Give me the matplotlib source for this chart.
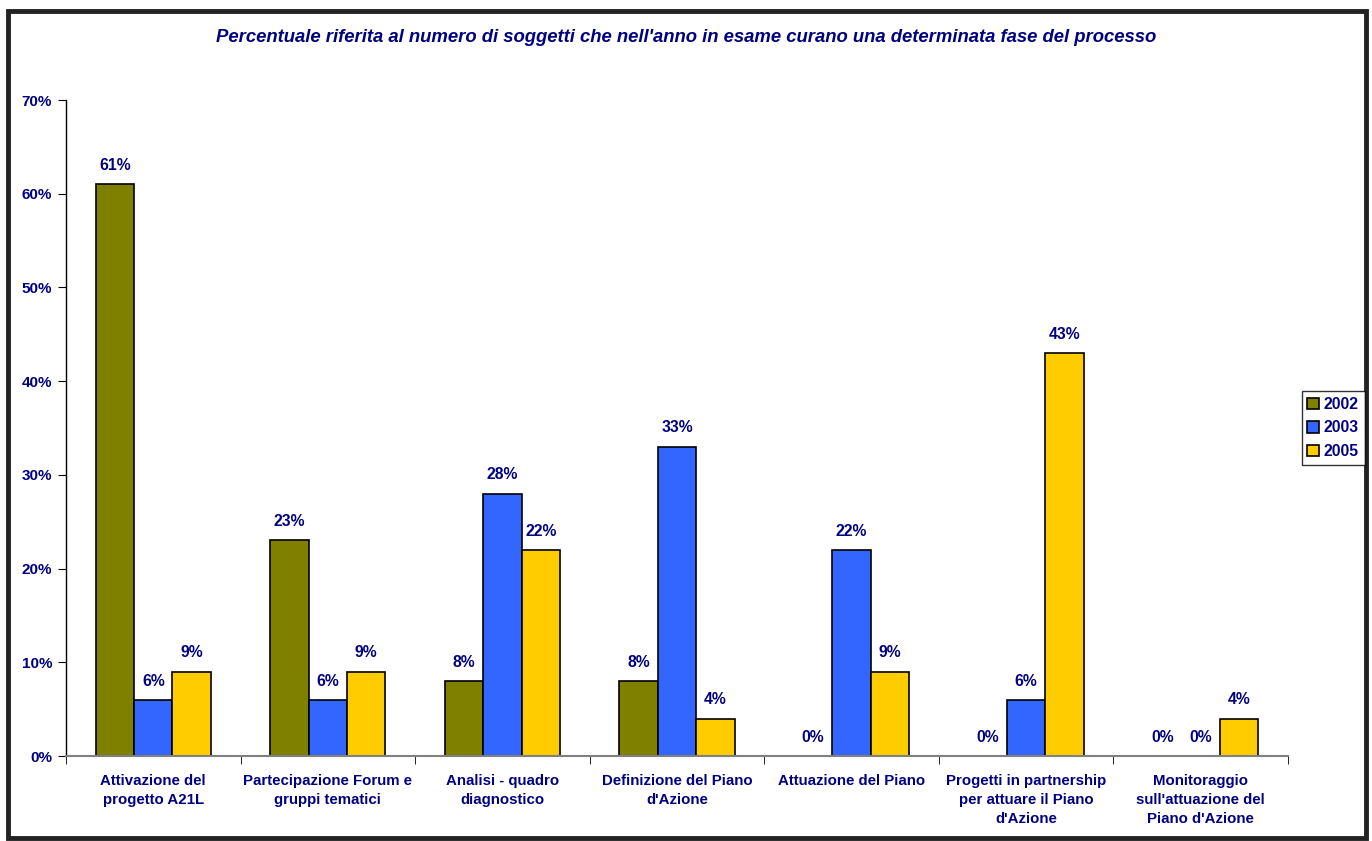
import numpy as np
import matplotlib.pyplot as plt
from matplotlib.patches import Rectangle

categories = ['Attivazione del\nprogetto A21L', 'Partecipazione Forum e\ngruppi tematici',
              'Analisi - quadro\ndiagnostico', "Definizione del Piano\nd'Azione",
              'Attuazione del Piano', 'Progetti in partnership\nper attuare il Piano\nd\'Azione',
              "Monitoraggio\nsull'attuazione del\nPiano d'Azione"]
years = ['2002', '2003', '2005']
v2002 = [61, 23, 8, 8, 0, 0, 0]
v2003 = [6, 6, 28, 33, 22, 6, 0]
v2005 = [9, 9, 22, 4, 9, 43, 4]
colors = ['#808000', '#3366FF', '#FFCC00']
navy = '#000080'

plt.rcParams['font.family'] = ['Liberation Sans', 'DejaVu Sans']

fig = plt.figure(figsize=(13.72, 8.41), dpi=100)
ax = fig.add_axes([66/1372, 1-756/841, (1288-66)/1372, (756-100)/841])

x = np.arange(len(categories))
w = 0.22
for i, (vals, c) in enumerate(zip([v2002, v2003, v2005], colors)):
    pos = x + (i - 1) * w
    ax.bar(pos, vals, w, color=c, edgecolor='black', linewidth=1.2, label=years[i])
    for p, v in zip(pos, vals):
        ax.text(p, v + 1.2, f'{v}%', ha='center', va='bottom', color=navy,
                fontsize=11.3, fontweight='bold')

ax.set_xlim(-0.5, len(categories) - 0.5)
ax.set_ylim(0, 70)
ax.set_yticks(range(0, 71, 10))
ax.set_yticklabels([f'{t}%' for t in range(0, 71, 10)], color=navy,
                   fontsize=11, fontweight='bold')
ax.set_xticks(x)
ax.set_xticklabels(categories, color=navy, fontsize=10.8, fontweight='bold',
                   linespacing=1.45)
ax.tick_params(axis='x', length=0, pad=13)
ax.set_xticks(np.arange(-0.5, len(categories) + 0.5, 1), minor=True)
ax.tick_params(axis='x', which='minor', length=6, direction='out', color='black')
ax.tick_params(axis='y', length=6, direction='out', color='black', pad=4)

for s in ['top', 'right']:
    ax.spines[s].set_visible(False)
ax.spines['bottom'].set_color('#808080')
ax.spines['bottom'].set_linewidth(1.5)
ax.spines['left'].set_linewidth(1.0)

fig.text(0.5, 1 - 38/841, "Percentuale riferita al numero di soggetti che nell'anno in esame curano una determinata fase del processo",
         ha='center', va='center', color=navy, fontsize=13.3, fontweight='bold', style='italic')

leg = fig.legend(loc='center left', bbox_to_anchor=(1302/1372, 1 - 428/841),
                 frameon=True, fancybox=False, edgecolor='black', handlelength=0.75,
                 handleheight=0.75, handletextpad=0.3, borderpad=0.35, labelspacing=0.55,
                 borderaxespad=0, prop={'weight': 'bold', 'size': 11.3})
leg.get_frame().set_linewidth(1.0)
for t in leg.get_texts():
    t.set_color(navy)

fig.patches.append(Rectangle((8/1372, 3/841), 1358/1372, 827/841, transform=fig.transFigure,
                             fill=False, edgecolor='#222222', linewidth=3.5))

fig.savefig('out.png', dpi=100, facecolor='white')
